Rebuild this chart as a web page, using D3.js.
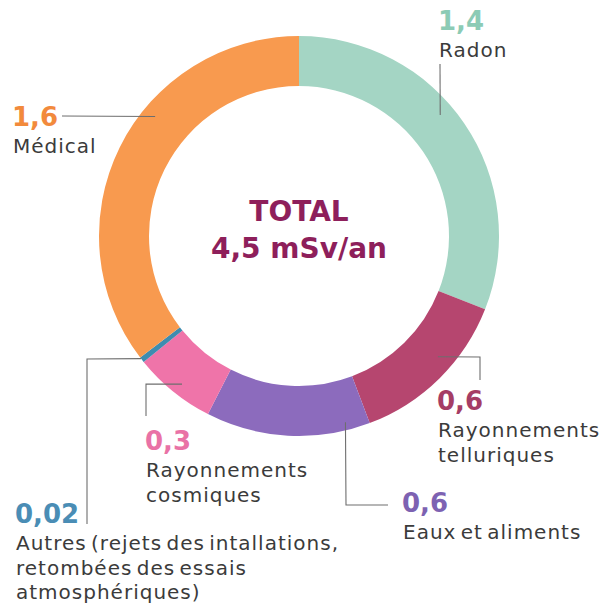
<!DOCTYPE html>
<html>
<head>
<meta charset="utf-8">
<script src="https://cdn.jsdelivr.net/npm/d3@7"></script>
<style>
  body { margin: 0; background: #fff; }
  svg { display: block; }
  .val { font-family: "DejaVu Sans", sans-serif; font-weight: bold; font-size: 26px; }
  .lbl { font-family: "DejaVu Sans", sans-serif; font-size: 20px; fill: #3b3b3b; letter-spacing: 1px; word-spacing: -3px; }
  .center { font-family: "DejaVu Sans", sans-serif; font-weight: bold; font-size: 28px; fill: #8e1f5b; }
</style>
</head>
<body>
<div id="chart"></div>
<script>
// Data, clockwise from the top
const categories = ['Radon', 'Rayonnements telluriques', 'Eaux et aliments', 'Rayonnements cosmiques', 'Autres', 'Médical'];
const values = [1.4, 0.6, 0.6, 0.3, 0.02, 1.6];
const valueLabels = ['1,4', '0,6', '0,6', '0,3', '0,02', '1,6'];
const labelLines = [
    ['Radon'],
    ['Rayonnements', 'telluriques'],
    ['Eaux et aliments'],
    ['Rayonnements', 'cosmiques'],
    ['Autres (rejets des intallations,', 'retombées des essais', 'atmosphériques)'],
    ['Médical']
];
const sliceColors = ['#a4d5c4', '#b6466f', '#8c6bbd', '#ef74a9', '#3e8cb0', '#f89a4f'];
const valueColors = ['#8ccbb5', '#a53d65', '#7d62b2', '#e972a6', '#4a8db5', '#f28a3c'];

const width = 609, height = 609;
const cx = 299, cy = 236;
const outerR = 200, innerR = 150;

// Annotation layout: anchor on the ring (angle in degrees, radius), elbow points, label origin
const annotations = [
    {anchor: [49.4, 186], path: [[440, 64]], text: [438, 30]},
    {anchor: [131, 184], path: [[480, 357], [480, 380]], text: [437, 410]},
    {anchor: [166, 192], path: [[346, 505], [388, 505]], text: [402, 512]},
    {anchor: [218.3, 188.7], path: [[146, 384], [146, 416]], text: [145, 450]},
    {anchor: [232.2, 200], path: [[87, 359], [87, 524]], text: [15, 523]},
    {anchor: [309.7, 187], path: [[62, 116]], text: [12, 126]}
];

const svg = d3.select('#chart')
    .append('svg')
    .attr('width', width)
    .attr('height', height);

const pie = d3.pie()
    .sort(null)
    .value(d => d)
    .startAngle(0)
    .endAngle(2 * Math.PI);

const arc = d3.arc()
    .innerRadius(innerR)
    .outerRadius(outerR);

const arcs = pie(values);

const g = svg.append('g')
    .attr('transform', `translate(${cx},${cy})`);

g.selectAll('path.slice')
    .data(arcs)
    .enter()
    .append('path')
    .attr('class', 'slice')
    .attr('d', arc)
    .attr('fill', (d, i) => sliceColors[i]);

// Leader lines
function polar(angleDeg, r) {
    const a = angleDeg * Math.PI / 180;
    return [cx + r * Math.sin(a), cy - r * Math.cos(a)];
}

const line = d3.line();
annotations.forEach((a, i) => {
    const pts = [polar(a.anchor[0], a.anchor[1])].concat(a.path);
    svg.append('path')
        .attr('d', line(pts))
        .attr('fill', 'none')
        .attr('stroke', '#6e6e6e')
        .attr('stroke-width', 1.1);
});

// Labels
annotations.forEach((a, i) => {
    svg.append('text')
        .attr('class', 'val')
        .attr('x', a.text[0])
        .attr('y', a.text[1])
        .attr('fill', valueColors[i])
        .text(valueLabels[i]);
    labelLines[i].forEach((t, j) => {
        svg.append('text')
            .attr('class', 'lbl')
            .attr('x', a.text[0] + 1)
            .attr('y', a.text[1] + 27 + j * 24.5)
            .text(t);
    });
});

// Centre text
svg.append('text')
    .attr('class', 'center')
    .attr('x', cx)
    .attr('y', 221)
    .attr('text-anchor', 'middle')
    .text('TOTAL');
svg.append('text')
    .attr('class', 'center')
    .attr('x', cx)
    .attr('y', 258)
    .attr('text-anchor', 'middle')
    .text('4,5 mSv/an');
</script>
</body>
</html>
